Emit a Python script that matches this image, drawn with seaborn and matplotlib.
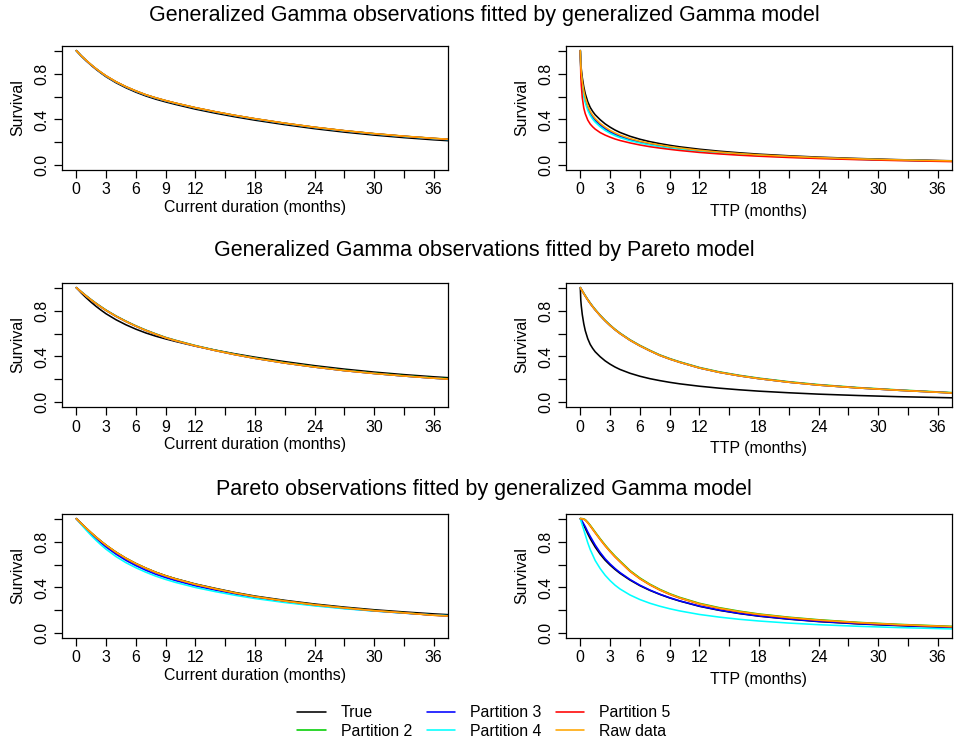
import numpy as np
import pandas as pd
import matplotlib
matplotlib.use("Agg")
import matplotlib.pyplot as plt
from matplotlib.lines import Line2D
import seaborn as sns

# ---------------- data ----------------
SERIES = ["True", "Partition 2", "Partition 3", "Partition 4", "Partition 5", "Raw data"]
COLORS = {"True": "#000000", "Partition 2": "#00CD00", "Partition 3": "#0000FF",
          "Partition 4": "#00FFFF", "Partition 5": "#FF0000", "Raw data": "#FFA500"}

X_TICKS = [0, 3, 6, 9, 12, 15, 18, 21, 24, 27, 30, 33, 36]
X_LABELED = [0, 3, 6, 9, 12, 18, 24, 30, 36]
Y_TICKS = [0.0, 0.2, 0.4, 0.6, 0.8, 1.0]
Y_LABELED = [0.0, 0.4, 0.8]

TITLES = ["Generalized Gamma observations fitted by generalized Gamma model",
          "Generalized Gamma observations fitted by Pareto model",
          "Pareto observations fitted by generalized Gamma model"]
XLABEL_LEFT = "Current duration (months)"
XLABEL_RIGHT = "TTP (months)"
YLABEL = "Survival"

# time grids (months)
t_cd = [0, 0.5, 1, 1.5, 2, 2.5, 3, 4, 5, 6, 7, 8, 9, 10, 12, 14, 16, 18, 21, 24, 27, 30, 33, 36, 37.5]
t_ttp = [0, 0.05, 0.1, 0.2, 0.35, 0.5, 0.75, 1, 1.25, 1.5, 2, 2.5, 3, 3.5, 4, 5, 6, 7, 8, 9, 10,
         12, 14, 16, 18, 21, 24, 28, 32, 37.5]
t_br = [0, 0.25, 0.5, 0.75, 1, 1.5, 2, 2.5, 3, 3.5, 4, 5, 6, 7, 8, 9, 10, 12, 14, 16, 18, 21, 24,
        28, 32, 37.5]

# ---- true curves ----
true_cd_gg = [1, .953, .911, .872, .836, .803, .772, .720, .676, .638, .605, .577, .553, .531, .490,
              .455, .423, .394, .355, .320, .290, .264, .242, .223, .215]
true_ttp_gg = [1, .89, .84, .765, .685, .625, .555, .505, .47, .441, .398, .362, .333, .308, .287,
               .254, .228, .207, .19, .175, .162, .141, .124, .11, .098, .084, .072, .06, .05, .04]
true_cd_par = [1, .956, .914, .874, .836, .800, .766, .705, .652, .607, .567, .532, .502, .476, .430,
               .392, .356, .325, .288, .256, .229, .206, .187, .170, .163]
true_ttp_par = [1, .96, .915, .868, .825, .752, .69, .638, .595, .557, .523, .465, .416, .375, .34,
                .309, .282, .236, .201, .173, .15, .124, .103, .083, .068, .05]

# ---- panel 1: GG observations, GG model, current duration ----
gg_cd_p2 = [1, .954, .914, .876, .841, .809, .779, .728, .685, .648, .615, .588, .564, .542, .502,
            .467, .435, .406, .367, .332, .302, .276, .254, .235, .227]
gg_cd_p3 = [1, .954, .913, .875, .840, .808, .778, .727, .684, .647, .614, .587, .563, .541, .501,
            .466, .434, .405, .366, .331, .301, .275, .253, .234, .226]
gg_cd_p4 = [1, .953, .913, .875, .840, .807, .777, .726, .683, .646, .613, .586, .562, .540, .500,
            .465, .433, .404, .365, .330, .300, .274, .252, .233, .225]
gg_cd_p5 = [1, .954, .914, .876, .841, .809, .779, .728, .685, .648, .615, .588, .564, .542, .502,
            .467, .435, .406, .367, .332, .302, .276, .254, .235, .227]
gg_cd_raw = [1, .955, .915, .877, .842, .810, .780, .729, .686, .649, .616, .589, .565, .543, .503,
             .468, .436, .407, .368, .333, .303, .277, .255, .236, .228]

# ---- panel 2: GG observations, GG model, TTP ----
gg_ttp_p2 = [1, .855, .79, .705, .625, .567, .5, .452, .42, .392, .351, .319, .292, .271, .253,
             .224, .203, .185, .171, .157, .146, .127, .111, .099, .088, .076, .065, .055, .046, .037]
gg_ttp_p3 = [1, .86, .795, .71, .63, .572, .505, .457, .424, .396, .355, .322, .295, .274, .256,
             .227, .205, .187, .172, .159, .148, .129, .113, .1, .089, .077, .066, .055, .047, .038]
gg_ttp_p4 = [1, .84, .77, .68, .6, .545, .48, .435, .403, .377, .337, .305, .28, .259, .242,
             .215, .195, .178, .164, .151, .141, .122, .107, .095, .085, .073, .063, .053, .045, .036]
gg_ttp_p5 = [1, .79, .7, .59, .5, .45, .395, .36, .336, .316, .286, .264, .246, .23, .217,
             .196, .178, .163, .151, .14, .13, .113, .1, .089, .08, .069, .06, .05, .042, .033]
gg_ttp_raw = [1, .87, .81, .73, .65, .59, .52, .47, .436, .408, .366, .333, .305, .283, .264,
              .234, .211, .193, .178, .164, .152, .132, .116, .103, .092, .079, .068, .057, .048, .039]

# ---- panel 3: GG observations, Pareto model, current duration ----
par_cd_p2 = [1, .964, .929, .895, .863, .833, .804, .753, .708, .667, .630, .597, .566, .541, .495,
             .455, .419, .387, .346, .311, .280, .255, .233, .214, .206]
par_cd_p3 = [1, .962, .926, .892, .860, .830, .801, .750, .705, .664, .627, .594, .563, .538, .492,
             .452, .416, .384, .343, .308, .277, .252, .230, .211, .203]
par_cd_p4 = [1, .962, .926, .892, .860, .830, .801, .750, .705, .664, .627, .594, .563, .538, .492,
             .452, .416, .384, .343, .308, .277, .252, .230, .211, .203]
par_cd_p5 = [1, .962, .926, .892, .860, .830, .801, .750, .705, .664, .627, .594, .563, .538, .492,
             .452, .416, .384, .343, .308, .277, .252, .230, .211, .203]
par_cd_raw = [1, .962, .926, .892, .860, .830, .801, .750, .705, .664, .627, .594, .563, .538, .492,
              .452, .416, .384, .343, .308, .277, .252, .230, .211, .203]

# ---- panel 4: GG observations, Pareto model, TTP ----
par_ttp_p2 = [1, .995, .988, .974, .952, .931, .897, .866, .837, .810, .760, .715, .674, .637, .604,
              .546, .497, .454, .414, .382, .354, .304, .266, .236, .211, .180, .155, .129, .109, .085]
par_ttp_p3 = [1, .992, .985, .97, .948, .927, .893, .862, .833, .806, .756, .711, .67, .633, .6,
              .542, .493, .45, .41, .378, .35, .3, .262, .232, .207, .176, .151, .126, .106, .082]
par_ttp_p4 = [1, .992, .985, .97, .948, .927, .893, .862, .833, .806, .756, .711, .67, .633, .6,
              .542, .493, .45, .41, .378, .35, .3, .262, .232, .207, .176, .151, .126, .106, .082]
par_ttp_p5 = [1, .992, .985, .97, .948, .927, .893, .862, .833, .806, .756, .711, .67, .633, .6,
              .542, .493, .45, .41, .378, .35, .3, .262, .232, .207, .176, .151, .126, .106, .082]
par_ttp_raw = [1, .992, .985, .97, .948, .927, .893, .862, .833, .806, .756, .711, .67, .633, .6,
               .542, .493, .45, .41, .378, .35, .3, .262, .232, .207, .176, .151, .126, .106, .082]

# ---- panel 5: Pareto observations, GG model, current duration ----
pgg_cd_p2 = [1, .958, .917, .877, .839, .803, .769, .708, .655, .609, .569, .533, .502, .475, .428,
             .389, .353, .321, .283, .250, .223, .199, .180, .159, .153]
pgg_cd_p3 = [1, .953, .909, .867, .828, .787, .752, .690, .636, .590, .550, .515, .486, .460, .414,
             .377, .343, .313, .276, .245, .218, .196, .177, .160, .153]
pgg_cd_p4 = [1, .948, .899, .853, .810, .770, .733, .669, .616, .572, .533, .499, .470, .444, .400,
             .364, .332, .304, .269, .240, .215, .195, .177, .161, .154]
pgg_cd_p5 = [1, .957, .916, .876, .838, .802, .768, .707, .654, .608, .568, .532, .501, .474, .427,
             .388, .352, .320, .282, .249, .222, .198, .179, .158, .152]
pgg_cd_raw = [1, .957, .916, .876, .838, .802, .768, .707, .654, .608, .568, .532, .501, .474, .427,
              .388, .352, .320, .282, .249, .222, .198, .179, .158, .152]

# ---- panel 6: Pareto observations, GG model, TTP ----
pgg_ttp_p2 = [1, .999, .991, .969, .942, .883, .825, .770, .720, .673, .631, .548, .483, .429, .384,
              .346, .314, .262, .224, .194, .169, .141, .119, .096, .079, .061]
pgg_ttp_p3 = [1, .968, .93, .885, .845, .77, .705, .65, .605, .565, .53, .47, .42, .378, .342,
              .311, .284, .238, .203, .175, .152, .126, .105, .085, .07, .052]
pgg_ttp_p4 = [1, .93, .86, .79, .73, .635, .565, .507, .46, .42, .387, .335, .295, .263, .237,
              .215, .196, .165, .142, .123, .108, .09, .076, .062, .051, .039]
pgg_ttp_p5 = [1, .998, .987, .964, .936, .876, .818, .763, .713, .666, .624, .541, .476, .423, .378,
              .34, .308, .256, .218, .188, .164, .136, .114, .092, .075, .057]
pgg_ttp_raw = [1, .998, .988, .965, .938, .878, .82, .765, .715, .668, .626, .543, .478, .425, .38,
               .342, .31, .258, .22, .19, .166, .138, .116, .094, .077, .059]

PANELS = [
    (t_cd, [true_cd_gg, gg_cd_p2, gg_cd_p3, gg_cd_p4, gg_cd_p5, gg_cd_raw]),
    (t_ttp, [true_ttp_gg, gg_ttp_p2, gg_ttp_p3, gg_ttp_p4, gg_ttp_p5, gg_ttp_raw]),
    (t_cd, [true_cd_gg, par_cd_p2, par_cd_p3, par_cd_p4, par_cd_p5, par_cd_raw]),
    (t_ttp, [true_ttp_gg, par_ttp_p2, par_ttp_p3, par_ttp_p4, par_ttp_p5, par_ttp_raw]),
    (t_cd, [true_cd_par, pgg_cd_p2, pgg_cd_p3, pgg_cd_p4, pgg_cd_p5, pgg_cd_raw]),
    (t_br, [true_ttp_par, pgg_ttp_p2, pgg_ttp_p3, pgg_ttp_p4, pgg_ttp_p5, pgg_ttp_raw]),
]

# ---------------- style ----------------
sns.set_theme(style="ticks")
plt.rcParams["font.family"] = ["Liberation Sans", "DejaVu Sans"]
plt.rcParams["axes.linewidth"] = 0.9
plt.rcParams["text.color"] = "black"
plt.rcParams["axes.labelcolor"] = "black"
plt.rcParams["xtick.color"] = "black"
plt.rcParams["ytick.color"] = "black"

W, H = 955, 745
fig = plt.figure(figsize=(W / 100, H / 100), dpi=100)

col_x = [62, 566]
ax_w = 386
row_y = [(46, 170), (283, 407), (514, 638)]
title_y = [15, 251, 490]

LW = 1.15
FS = 11.4

for i, (tgrid, curves) in enumerate(PANELS):
    r, c = divmod(i, 2)
    top, bot = row_y[r]
    ax = fig.add_axes([col_x[c] / W, 1 - bot / H, ax_w / W, (bot - top) / H])
    frames = [pd.DataFrame({"t": tgrid, "S": vals, "series": name})
              for name, vals in zip(SERIES, curves)]
    df = pd.concat(frames, ignore_index=True)
    sns.lineplot(data=df, x="t", y="S", hue="series", hue_order=SERIES,
                 palette=COLORS, estimator=None, errorbar=None, legend=False,
                 lw=LW, ax=ax)
    ax.set_xlim(-1.44, 37.44)
    ax.set_ylim(-0.04, 1.04)
    ax.set_xticks(X_TICKS)
    ax.set_xticklabels([str(v) if v in X_LABELED else "" for v in X_TICKS])
    ax.set_yticks(Y_TICKS)
    ax.set_yticklabels([f"{v:.1f}" if v in Y_LABELED else "" for v in Y_TICKS])
    ax.tick_params(axis="both", direction="out", length=6, width=0.9,
                   labelsize=FS, colors="black", pad=3)
    for lab in ax.get_yticklabels():
        lab.set_rotation(90)
        lab.set_va("center")
    ax.set_ylabel(YLABEL, fontsize=FS, labelpad=7)
    if c == 0:
        ax.set_xlabel(XLABEL_LEFT, fontsize=FS, labelpad=1.5)
    else:
        ax.set_xlabel(XLABEL_RIGHT, fontsize=FS, labelpad=5)
    for sp in ax.spines.values():
        sp.set_visible(True)
        sp.set_color("black")

for k, ttl in enumerate(TITLES):
    fig.text(484 / W, 1 - title_y[k] / H, ttl, ha="center", va="center", fontsize=15.5)

handles = [Line2D([], [], color=COLORS[s], lw=LW) for s in SERIES]
fig.legend(handles, SERIES, loc="center", bbox_to_anchor=(484 / W, 1 - 722 / H),
           ncol=3, frameon=False, fontsize=FS, handlelength=1.8,
           handletextpad=0.95, columnspacing=0.9, labelspacing=0.2)

fig.savefig("out.png", dpi=100)
